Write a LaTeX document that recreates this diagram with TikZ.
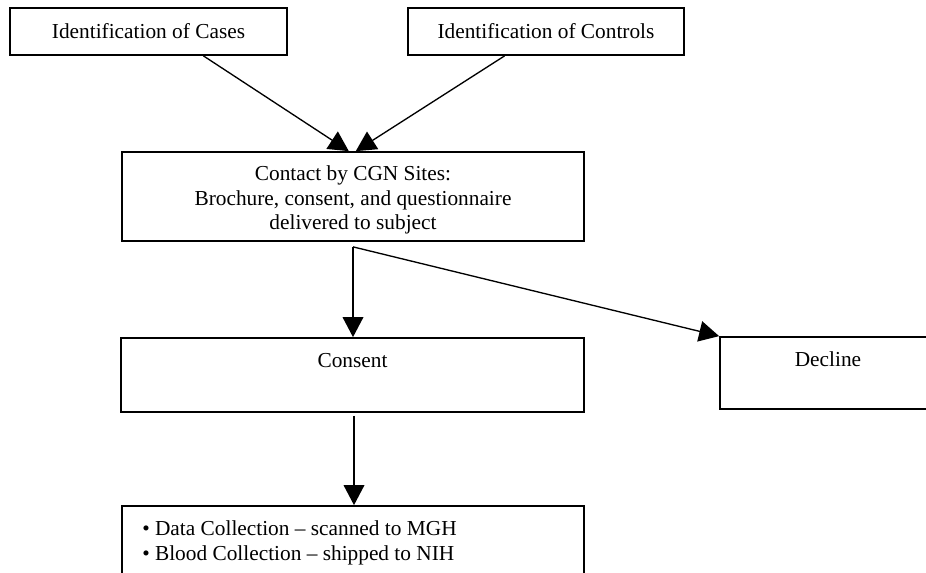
\documentclass[tikz,border=0pt]{standalone}
\usepackage{fontspec}
\setmainfont{Liberation Serif}
\usetikzlibrary{arrows.meta,calc}
\tikzset{
  txt/.style={font=\fontsize{16pt}{18.4pt}\selectfont, inner sep=0pt},
  box/.style={txt, draw=black, line width=1.3pt, rectangle, align=center},
  arr/.style={line width=1pt, -{Triangle[length=15pt,width=15.5pt]}}
}
\begin{document}
\begin{tikzpicture}[x=0.75pt,y=-0.75pt]
\useasboundingbox (0,0) rectangle (926,573);
% boxes
\node[box, minimum width=207.75pt, minimum height=35.25pt] (cases) at (148.5,31.5) {Identification of Cases};
\node[box, minimum width=207pt, minimum height=35.25pt] (controls) at (546,31.5) {Identification of Controls};
\node[box, minimum width=346.5pt, minimum height=66.75pt] (contact) at (353,196.5) {};
\node[txt, align=center] (contactlbl) at (353,200)
  {Contact by CGN Sites:\\Brochure, consent, and questionnaire\\delivered to subject};
\node[box, minimum width=347.25pt, minimum height=55.5pt] (consent) at (352.5,375) {};
\node[txt, anchor=base] (consentlbl) at (352.5,368) {Consent};
\node[box, minimum width=162pt, minimum height=54pt] (decline) at (828,373) {};
\node[txt, anchor=base] (declinelbl) at (828,367) {Decline};
\node[box, minimum width=346.5pt, minimum height=100.5pt] (collect) at (353,573) {};
\node[txt, anchor=base west] (collect1) at (142,536) {\textbullet\ Data Collection -- scanned to MGH};
\node[txt, anchor=base west] (collect2) at (142,561) {\textbullet\ Blood Collection -- shipped to NIH};
% connectors
\coordinate (split) at ($(contact.south)+(0,5)$);
\draw[arr] ($(cases.south west)!0.697!(cases.south east)$) -- ($(contact.north west)!0.491!(contact.north east)$);
\draw[arr] ($(controls.south west)!0.351!(controls.south east)$) -- ($(contact.north west)!0.506!(contact.north east)$);
\draw[arr] (split) -- (split |- consent.north);
\draw[arr] (split) -- (decline.north west);
\draw[arr] ($(consent.south)+(1.5,3)$) -- ($(collect.north)+(1,0)$);
\end{tikzpicture}
\end{document}
